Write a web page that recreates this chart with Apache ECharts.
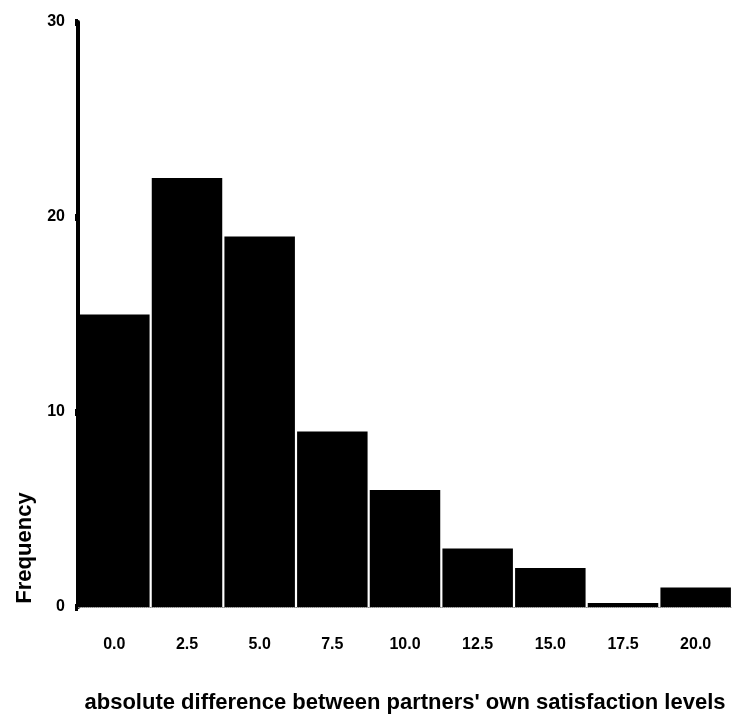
<!DOCTYPE html>
<html>
<head>
<meta charset="utf-8">
<script src="https://cdn.jsdelivr.net/npm/echarts@6/dist/echarts.min.js"></script>
<style>html,body{margin:0;padding:0;background:#fff}#c{width:732px;height:718px}</style>
</head>
<body>
<div id="c"></div>
<script>
var categories = ['0.0', '2.5', '5.0', '7.5', '10.0', '12.5', '15.0', '17.5', '20.0'];
var frequency = [15, 22, 19, 9, 6, 3, 2, 0.2, 1];
var yTicks = [0, 10, 20, 30];
var xTitle = "absolute difference between partners' own satisfaction levels";
var yTitle = 'Frequency';

var chart = echarts.init(document.getElementById('c'));
chart.setOption({
  animation: false,
  backgroundColor: '#fff',
  grid: { left: 78, right: 0, top: 22, bottom: 111 },
  xAxis: {
    type: 'category',
    data: categories,
    axisLine: { show: true, lineStyle: { color: '#888', type: 'dotted', width: 1 } },
    axisTick: { show: false },
    axisLabel: { color: '#000', fontSize: 16, fontWeight: 'bold', fontFamily: 'Liberation Sans', margin: 30 }
  },
  yAxis: {
    type: 'value',
    min: yTicks[0],
    max: yTicks[yTicks.length - 1],
    interval: 10,
    splitLine: { show: false },
    axisLine: { show: true, lineStyle: { color: '#000', width: 4 } },
    axisTick: { show: true, length: 3, lineStyle: { color: '#000', width: 7 } },
    axisLabel: { color: '#000', fontSize: 16, fontWeight: 'bold', fontFamily: 'Liberation Sans', margin: 13 }
  },
  graphic: [
    {
      type: 'text', x: 405, y: 703,
      style: { text: xTitle, fill: '#000', font: 'bold 22px "Liberation Sans"', align: 'center', verticalAlign: 'middle' }
    },
    {
      type: 'text', x: 25, y: 548, rotation: Math.PI / 2,
      style: { text: yTitle, fill: '#000', font: 'bold 22px "Liberation Sans"', align: 'center', verticalAlign: 'middle' }
    }
  ],
  series: [{
    type: 'bar',
    data: frequency,
    barCategoryGap: '3%',
    itemStyle: { color: '#000' }
  }]
});
</script>
</body>
</html>
